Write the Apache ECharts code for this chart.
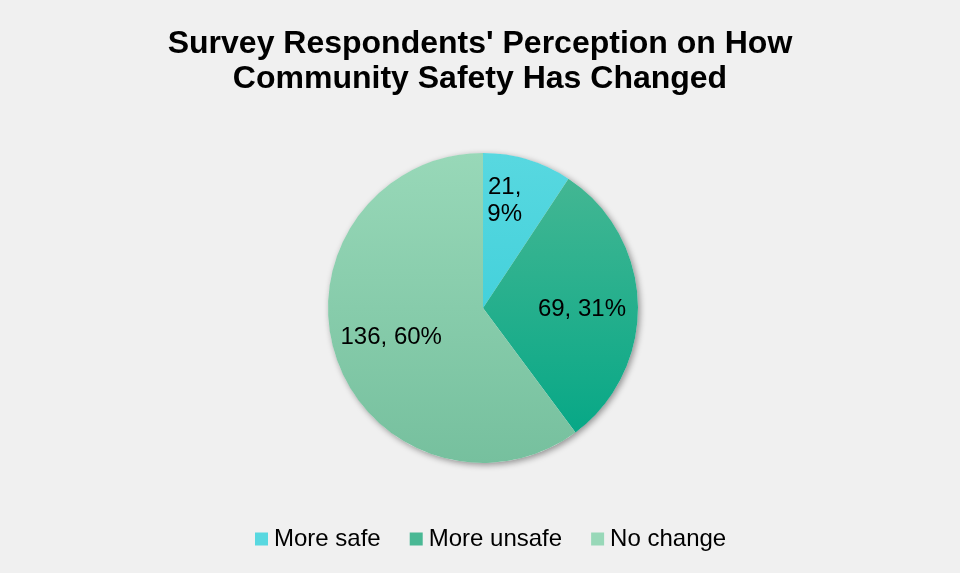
<!DOCTYPE html>
<html><head><meta charset="utf-8">
<script src="https://cdn.jsdelivr.net/npm/echarts@6/dist/echarts.min.js"></script>
<style>html,body{margin:0;padding:0;background:#f0f0f0;}#c{width:960px;height:573px;}</style>
</head><body><div id="c"></div>
<script>
const titleText = "Survey Respondents' Perception on How\nCommunity Safety Has Changed";
const categories = ['More safe', 'More unsafe', 'No change'];
const values = [21, 69, 136];
const topColors = ['#58d8e0', '#49b894', '#98d8b8'];
const bottomColors = ['#30cad6', '#00a685', '#76c09e'];

const chart = echarts.init(document.getElementById('c'), null, {renderer: 'canvas'});
const cx = 483, cy = 308, R = 155;
function grad(i) {
  return {type: 'linear', global: true, x: 0, y: cy - R, x2: 0, y2: cy + R,
    colorStops: [{offset: 0, color: topColors[i]}, {offset: 1, color: bottomColors[i]}]};
}
const total = values.reduce((a, b) => a + b, 0);
const baseData = categories.map((n, i) => ({name: n, value: values[i], itemStyle: {color: grad(i)}}));
const labelOffsets = [[-8, -8], [-4, 4], [6, -3]];
const labelData = categories.map((n, i) => ({name: n, value: values[i],
  label: i === 0 ? {formatter: '{c},\n{d}%', align: 'left', offset: labelOffsets[i]} : {offset: labelOffsets[i]}}));
chart.setOption({
  backgroundColor: '#f0f0f0',
  title: {text: titleText, left: 'center', top: 22,
    textStyle: {fontFamily: 'Liberation Sans', fontWeight: 'bold', fontSize: 32, lineHeight: 35, color: '#000'}},
  legend: {bottom: 17, left: 250, itemWidth: 13, itemHeight: 13, itemGap: 29,
    icon: 'rect',
    textStyle: {fontFamily: 'Liberation Sans', fontSize: 24, color: '#000', padding: [0, 0, 0, 1]},
    data: categories},
  series: [{
    type: 'pie', radius: R, center: [cx, cy], startAngle: 90, clockwise: true,
    data: [{name: '_shadow', value: total}], label: {show: false}, labelLine: {show: false},
    silent: true, legendHoverLink: false,
    itemStyle: {color: '#f0f0f0', shadowBlur: 6, shadowColor: 'rgba(0,0,0,0.4)', shadowOffsetX: 2, shadowOffsetY: 2},
    emphasis: {disabled: true}
  }, {
    type: 'pie', radius: R, center: [cx, cy], startAngle: 90, clockwise: true,
    data: baseData, label: {show: false}, labelLine: {show: false},
    emphasis: {disabled: true}
  }, {
    type: 'pie', radius: [45, R], center: [cx, cy], startAngle: 90, clockwise: true,
    data: labelData, silent: true, legendHoverLink: false, percentPrecision: 0,
    itemStyle: {color: 'rgba(0,0,0,0)'},
    label: {show: true, position: 'inside', formatter: '{c}, {d}%', fontFamily: 'Liberation Sans', fontSize: 24, lineHeight: 27, color: '#000'},
    labelLine: {show: false},
    emphasis: {disabled: true}
  }]
});
</script></body></html>
